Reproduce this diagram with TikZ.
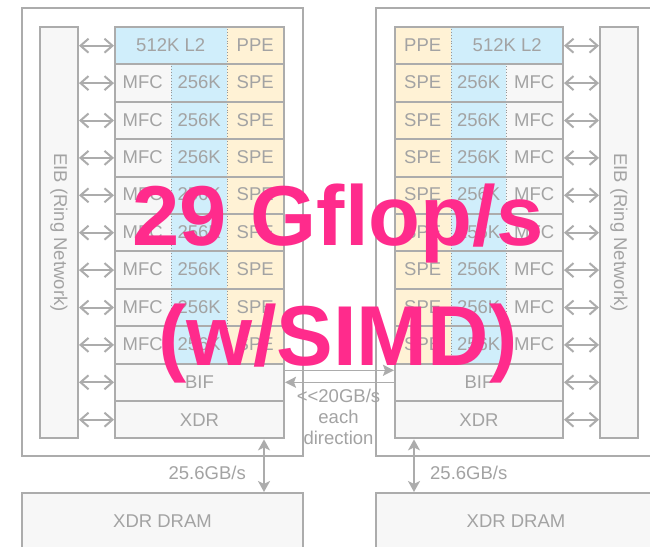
\documentclass[tikz,border=0pt]{standalone}
\usepackage{fontspec}
\setmainfont{Liberation Sans}[Ligatures={TeXOff,NoCommon}]
\usetikzlibrary{arrows.meta}
\definecolor{lnc}{RGB}{172,172,172}
\definecolor{dotc}{RGB}{150,150,150}
\definecolor{txc}{RGB}{163,163,163}
\definecolor{cblue}{RGB}{208,238,251}
\definecolor{corg}{RGB}{255,242,213}
\definecolor{cgray}{RGB}{247,247,247}
\definecolor{pinkc}{RGB}{255,43,140}
\begin{document}
\begin{tikzpicture}[x=1pt,y=-1pt,
  txt/.style={font=\fontsize{18.5}{21}\selectfont,text=txc},
  cell/.style={txt,inner sep=0pt,minimum height=37.4,anchor=north west},
  rowbox/.style={draw=lnc,line width=2pt,inner sep=0pt,minimum width=169,minimum height=37.4,anchor=north west},
  outerbox/.style={draw=lnc,line width=2pt,fill=white,inner sep=0pt,anchor=north west},
  eibbox/.style={draw=lnc,line width=2pt,fill=cgray,inner sep=0pt,minimum width=38,minimum height=411,anchor=north west},
  drambox/.style={txt,draw=lnc,line width=2pt,fill=cgray,inner sep=0pt,minimum width=281,minimum height=56,anchor=north west},
  sepline/.style={dotc,line width=0.9pt,dotted},
  dbl/.style={lnc,line width=2pt,{Straight Barb[length=8pt,width=14pt]}-{Straight Barb[length=8pt,width=14pt]}},
  vdbl/.style={lnc,line width=2pt,{Stealth[length=11pt,width=12pt,inset=3pt]}-{Stealth[length=11pt,width=12pt,inset=3pt]}},
  onearrow/.style={lnc,line width=1.6pt,-{Stealth[length=11pt,width=11pt,inset=2pt]}},
  big/.style={font=\fontsize{85}{100}\selectfont\bfseries,text=pinkc,inner sep=0pt,anchor=base}
]
\useasboundingbox (0,0) rectangle (650,546);
\clip (0,0) rectangle (650,546);
\fill[white] (0,0) rectangle (650,546);

% ---------- outer chip boxes ----------
\node[outerbox,minimum width=281,minimum height=448] (Lchip) at (21,7) {};
\node[outerbox,minimum width=280,minimum height=448] (Rchip) at (375,7) {};

% ---------- EIB bars ----------
\node[eibbox] (Leib) at (39,26) {};
\node[txt,rotate=-90] (Leibt) at (Leib.center) {EIB (Ring Network)};
\node[eibbox] (Reib) at (599,26) {};
\node[txt,rotate=-90] (Reibt) at (Reib.center) {EIB (Ring Network)};

% ---------- left core column ----------
\node[cell,fill=cblue,minimum width=113] (Ll2) at (114,26) {512K L2};
\node[cell,fill=corg,minimum width=56] (Lppe) at (227,26) {PPE};
\draw[sepline] (Ll2.north east) -- (Ll2.south east);
\foreach \i in {1,...,8}{
  \node[cell,fill=cgray,minimum width=57] (Lm\i) at (114,{26+\i*37.4}) {MFC};
  \node[cell,fill=cblue,minimum width=56] (Lk\i) at (171,{26+\i*37.4}) {256K};
  \node[cell,fill=corg,minimum width=56] (Ls\i) at (227,{26+\i*37.4}) {SPE};
  \draw[sepline] (Lm\i.north east) -- (Lm\i.south east);
  \draw[sepline] (Lk\i.north east) -- (Lk\i.south east);
}
\foreach \i in {0,...,8}{
  \node[rowbox] (Lr\i) at (114,{26+\i*37.4}) {};
}
\node[rowbox,txt,fill=cgray] (Lr9) at (114,{26+9*37.4}) {BIF};
\node[rowbox,txt,fill=cgray] (Lr10) at (114,{26+10*37.4}) {XDR};

% ---------- right core column ----------
\node[cell,fill=corg,minimum width=57] (Rppe) at (394,26) {PPE};
\node[cell,fill=cblue,minimum width=112] (Rl2) at (451,26) {512K L2};
\draw[sepline] (Rppe.north east) -- (Rppe.south east);
\foreach \i in {1,...,8}{
  \node[cell,fill=corg,minimum width=57] (Rs\i) at (394,{26+\i*37.4}) {SPE};
  \node[cell,fill=cblue,minimum width=55] (Rk\i) at (451,{26+\i*37.4}) {256K};
  \node[cell,fill=cgray,minimum width=56] (Rm\i) at (506,{26+\i*37.4}) {MFC};
  \draw[sepline] (Rs\i.north east) -- (Rs\i.south east);
  \draw[sepline] (Rk\i.north east) -- (Rk\i.south east);
}
\foreach \i in {0,...,8}{
  \node[rowbox,minimum width=168] (Rr\i) at (394,{26+\i*37.4}) {};
}
\node[rowbox,txt,fill=cgray,minimum width=168] (Rr9) at (394,{26+9*37.4}) {BIF};
\node[rowbox,txt,fill=cgray,minimum width=168] (Rr10) at (394,{26+10*37.4}) {XDR};

% ---------- EIB connectors ----------
\foreach \i in {0,...,10}{
  \draw[dbl] (Leib.east |- Lr\i.west) -- (Lr\i.west);
  \draw[dbl] (Rr\i.east) -- (Reib.west |- Rr\i.east);
}

% ---------- inter-chip link ----------
\draw[onearrow] ([yshift=12pt]Lr9.east) -- ([yshift=12pt]Rr9.west);
\draw[onearrow] (Rr9.west) -- (Lr9.east);
\node[txt,align=center,inner sep=0pt] (link) at (338.5,417) {<<20GB/s\\each\\direction};

% ---------- DRAM ----------
\node[drambox] (Ldram) at (21,492) {XDR DRAM};
\node[drambox,minimum width=280] (Rdram) at (375,492) {XDR DRAM};
\coordinate (Lva) at (264,0);
\coordinate (Rva) at (414,0);
\draw[vdbl] (Lr10.south -| Lva) -- (Ldram.north -| Lva);
\draw[vdbl] (Rr10.south -| Rva) -- (Rdram.north -| Rva);
\node[txt,inner sep=0pt,anchor=east] (Lbw) at (246,473) {25.6GB/s};
\node[txt,inner sep=0pt,anchor=west] (Rbw) at (430,473) {25.6GB/s};

% ---------- overlay ----------
\node[big] (g1) at (338,245) {29 Gflop/s};
\node[big] (g2) at (338,365) {(w/SIMD)};
\end{tikzpicture}
\end{document}
